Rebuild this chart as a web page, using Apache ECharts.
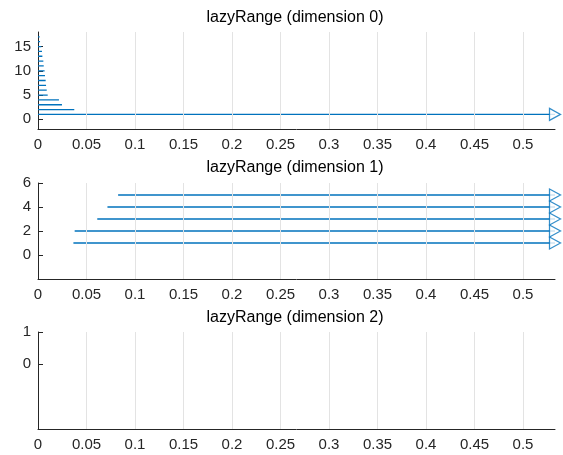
<!DOCTYPE html>
<html>
<head>
<meta charset="utf-8">
<script src="https://cdn.jsdelivr.net/npm/echarts@6/dist/echarts.min.js"></script>
<style>
html,body{margin:0;padding:0;background:#fff;}
#chart{width:563px;height:455px;}
</style>
</head>
<body>
<div id="chart"></div>
<script>
// ---- data ----
const titles = ['lazyRange (dimension 0)', 'lazyRange (dimension 1)', 'lazyRange (dimension 2)'];
const xTicks = [0, 0.05, 0.1, 0.15, 0.2, 0.25, 0.3, 0.35, 0.4, 0.45, 0.5];
const xMax = 0.533;
// dimension 0: each range starts at 0 and ends at the given value (Infinity = open to the right)
const dim0Y = [1, 2, 3, 4, 5, 6, 7, 8, 9, 10, 11, 12, 13, 14, 15, 16, 17];
const dim0Start = [0, 0, 0, 0, 0, 0, 0, 0, 0, 0, 0, 0, 0, 0, 0, 0, 0];
const dim0End = [Infinity, 0.0374, 0.0247, 0.0216, 0.0100, 0.0090, 0.0083, 0.0079, 0.0072, 0.0068, 0.0059, 0.0055, 0.0045, 0.0041, 0.0034, 0.0021, 0.0017];
// dimension 1
const dim1Y = [1, 2, 3, 4, 5];
const dim1Start = [0.0365, 0.0378, 0.0611, 0.0716, 0.0826];
const dim1End = [Infinity, Infinity, Infinity, Infinity, Infinity];
// dimension 2: no ranges
const dim2Y = [];
const dim2Start = [];
const dim2End = [];
// axis ranges and tick labels
const yMins = [-2, -2, -2];
const yMaxs = [18, 6, 1];
const yTicks = [[0, 5, 10, 15], [0, 2, 4, 6], [0, 1]];

const panels = [
  {y: dim0Y, s: dim0Start, e: dim0End},
  {y: dim1Y, s: dim1Start, e: dim1End},
  {y: dim2Y, s: dim2Start, e: dim2End}
];

const FONT = '"Liberation Sans", Arial, Helvetica, sans-serif';
const BLUE = '#0072BD';
const AX = '#262626';
const gridTops = [32, 183, 332];
const gridHeights = [97, 96, 97];
const titleTops = [10, 160, 310];

const grid = [], xAxis = [], yAxis = [], series = [], title = [];
panels.forEach((p, i) => {
  grid.push({left: 38, width: 517, top: gridTops[i], height: gridHeights[i], containLabel: false});
  title.push({
    text: titles[i], left: 295, top: titleTops[i], textAlign: 'center', padding: 0,
    textStyle: {fontFamily: FONT, fontSize: 16, fontWeight: 'normal', color: '#000'}
  });
  xAxis.push({
    type: 'value', gridIndex: i, min: 0, max: xMax,
    axisLine: {show: true, onZero: false, lineStyle: {color: AX, width: 1}},
    axisTick: {show: true, inside: true, length: 5, lineStyle: {color: AX}, customValues: xTicks},
    axisLabel: {fontFamily: FONT, fontSize: 15, color: AX, margin: 8, customValues: xTicks,
      formatter: v => String(+(+v).toFixed(4))},
    splitLine: {show: false}
  });
  yAxis.push({
    type: 'value', gridIndex: i, min: yMins[i], max: yMaxs[i],
    axisLine: {show: true, onZero: false, lineStyle: {color: AX, width: 1}},
    axisTick: {show: true, inside: true, length: 5, lineStyle: {color: AX}, customValues: yTicks[i]},
    axisLabel: {fontFamily: FONT, fontSize: 15, color: AX, margin: 7, customValues: yTicks[i]},
    splitLine: {show: false}
  });
  // vertical grid lines at the x tick values
  series.push({
    type: 'line', xAxisIndex: i, yAxisIndex: i, data: [], silent: true, z: 0,
    markLine: {
      silent: true, symbol: 'none', label: {show: false}, animation: false,
      lineStyle: {color: '#e3e3e3', width: 1, type: 'solid'},
      data: xTicks.filter(v => v > 0).map(v => ({xAxis: v}))
    }
  });
  const arrows = [];
  p.y.forEach((y, k) => {
    const open = !isFinite(p.e[k]);
    const end = open ? xMax : p.e[k];
    series.push({
      type: 'line', xAxisIndex: i, yAxisIndex: i, data: [[p.s[k], y], [end, y]],
      showSymbol: false, symbol: 'none', silent: true, z: 3,
      lineStyle: {color: BLUE, width: 1.3}
    });
    if (open) arrows.push([xMax, y]);
  });
  series.push({
    type: 'scatter', xAxisIndex: i, yAxisIndex: i, data: arrows, clip: false,
    symbol: 'triangle', symbolRotate: -90, symbolSize: [12, 11], z: 5, silent: true,
    itemStyle: {color: '#fff', borderColor: BLUE, borderWidth: 1.3}
  });
});

const chart = echarts.init(document.getElementById('chart'), null, {renderer: 'canvas'});
chart.setOption({animation: false, backgroundColor: '#fff', title, grid, xAxis, yAxis, series});
</script>
</body>
</html>
